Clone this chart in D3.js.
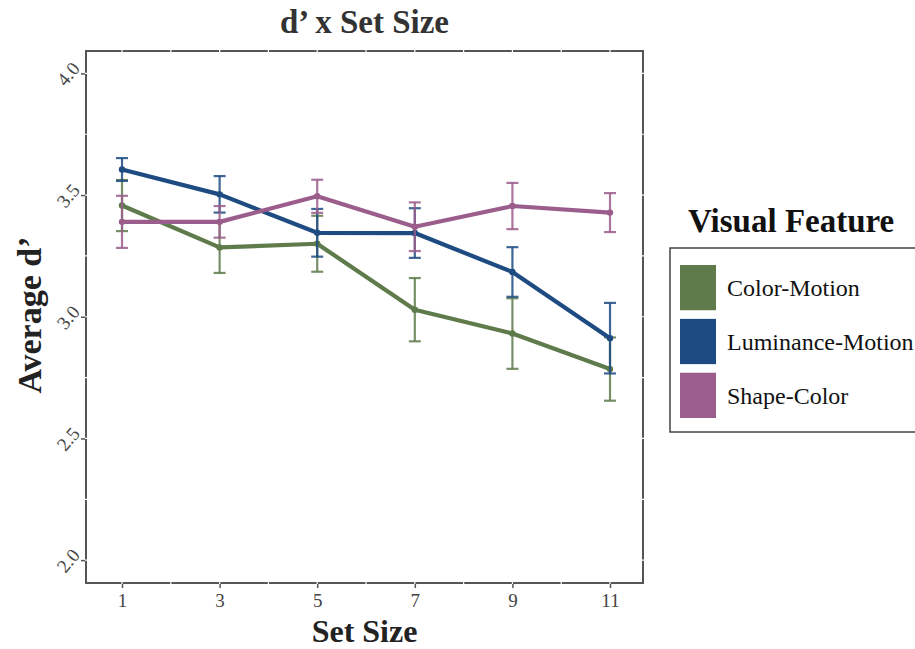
<!DOCTYPE html>
<html>
<head>
<meta charset="utf-8">
<script src="https://cdn.jsdelivr.net/npm/d3@7"></script>
<style>
  html, body { margin: 0; padding: 0; background: #fff; }
  svg { display: block; }
</style>
</head>
<body>
<svg id="chart" width="915" height="649"></svg>
<script>
// Set sizes on the x axis
const setSizes = [1, 3, 5, 7, 9, 11];

// Mean d' per set size, one array per visual feature condition
const colorMotion     = [3.457, 3.285, 3.300, 3.029, 2.931, 2.785];
const luminanceMotion = [3.605, 3.503, 3.345, 3.344, 3.184, 2.912];
const shapeColor      = [3.390, 3.390, 3.495, 3.370, 3.455, 3.428];

// Standard error around each mean
const colorMotionSE     = [0.105, 0.105, 0.115, 0.130, 0.145, 0.130];
const luminanceMotionSE = [0.047, 0.075, 0.098, 0.102, 0.102, 0.145];
const shapeColorSE      = [0.107, 0.065, 0.068, 0.100, 0.095, 0.080];

const seriesNames  = ["Color-Motion", "Luminance-Motion", "Shape-Color"];
const seriesColors = ["#5f7b4b", "#1d4b82", "#9b5d8b"];

const yTicks = [2.0, 2.5, 3.0, 3.5, 4.0];

const series = [
  { name: seriesNames[0], color: seriesColors[0], mean: colorMotion,     se: colorMotionSE },
  { name: seriesNames[1], color: seriesColors[1], mean: luminanceMotion, se: luminanceMotionSE },
  { name: seriesNames[2], color: seriesColors[2], mean: shapeColor,      se: shapeColorSE }
];

const svg = d3.select("#chart");
const serif = "'Liberation Serif', 'Times New Roman', serif";

// Panel box
const panel = { left: 86, right: 643, top: 51, bottom: 583 };

const x = d3.scaleLinear().domain([0.262, 11.676]).range([panel.left, panel.right]);
const y = d3.scaleLinear().domain([1.906, 4.092]).range([panel.bottom, panel.top]);

// Title
svg.append("text")
  .attr("x", (panel.left + panel.right) / 2)
  .attr("y", 33)
  .attr("text-anchor", "middle")
  .attr("font-family", serif)
  .attr("font-weight", "bold")
  .attr("font-size", 33)
  .attr("fill", "#333")
  .text("d\u2019 x Set Size");

// Panel border
svg.append("rect")
  .attr("x", panel.left).attr("y", panel.top)
  .attr("width", panel.right - panel.left)
  .attr("height", panel.bottom - panel.top)
  .attr("fill", "#fff")
  .attr("stroke", "#555")
  .attr("stroke-width", 2);

// White grid lines (only show where they cross the border)
const grid = svg.append("g").attr("stroke", "#fff").attr("stroke-width", 1.2);
d3.range(0, 12, 1).forEach(v => {
  if (x(v) > panel.left + 1 && x(v) < panel.right - 1) {
    grid.append("line").attr("x1", x(v)).attr("x2", x(v))
      .attr("y1", panel.top - 1.5).attr("y2", panel.bottom + 1.5);
  }
});
d3.range(2.0, 4.01, 0.25).forEach(v => {
  grid.append("line").attr("y1", y(v)).attr("y2", y(v))
    .attr("x1", panel.left - 1.5).attr("x2", panel.right + 1.5);
});

// Axes
const xAxis = d3.axisBottom(x).tickValues(setSizes).tickSize(4).tickPadding(6)
  .tickFormat(d3.format("d"));
const gx = svg.append("g")
  .attr("transform", `translate(0,${panel.bottom + 1})`)
  .call(xAxis);
gx.select(".domain").remove();
gx.selectAll(".tick line").attr("stroke", "#555").attr("stroke-width", 1.5);
gx.selectAll(".tick text")
  .attr("font-family", serif).attr("font-size", 19).attr("fill", "#444");

const yAxis = d3.axisLeft(y).tickValues(yTicks).tickSize(4).tickPadding(6)
  .tickFormat(d3.format(".1f"));
const gy = svg.append("g")
  .attr("transform", `translate(${panel.left - 1},0)`)
  .call(yAxis);
gy.select(".domain").remove();
gy.selectAll(".tick line").attr("stroke", "#555").attr("stroke-width", 1.5);
gy.selectAll(".tick text")
  .attr("font-family", serif).attr("font-size", 19).attr("fill", "#444")
  .attr("text-anchor", "middle")
  .attr("x", -17).attr("dy", "0.35em")
  .attr("transform", "rotate(-50,-17,0)");

// Axis titles
svg.append("text")
  .attr("x", (panel.left + panel.right) / 2)
  .attr("y", 642)
  .attr("text-anchor", "middle")
  .attr("font-family", serif).attr("font-weight", "bold")
  .attr("font-size", 32).attr("fill", "#222")
  .text("Set Size");

svg.append("text")
  .attr("transform", `translate(41,${(panel.top + panel.bottom) / 2 - 2}) rotate(-90)`)
  .attr("text-anchor", "middle")
  .attr("font-family", serif).attr("font-weight", "bold")
  .attr("font-size", 34).attr("fill", "#222")
  .text("Average d\u2019");

// Lines, points and error bars
const plot = svg.append("g");
const line = d3.line().x(d => x(d.s)).y(d => y(d.m));
const capHalf = 6;

series.forEach(sr => {
  const pts = setSizes.map((s, i) => ({ s, m: sr.mean[i], e: sr.se[i] }));
  const g = plot.append("g");
  g.append("path").datum(pts)
    .attr("d", line)
    .attr("fill", "none")
    .attr("stroke", sr.color)
    .attr("stroke-width", 4.2)
    .attr("stroke-linejoin", "round");
  g.selectAll("circle").data(pts).join("circle")
    .attr("cx", d => x(d.s)).attr("cy", d => y(d.m))
    .attr("r", 3.2).attr("fill", sr.color);
  const eb = g.append("g")
    .attr("stroke", sr.color)
    .attr("stroke-width", 2.2)
    .attr("stroke-opacity", 0.85);
  pts.forEach(d => {
    eb.append("line").attr("x1", x(d.s)).attr("x2", x(d.s))
      .attr("y1", y(d.m - d.e)).attr("y2", y(d.m + d.e));
    eb.append("line").attr("x1", x(d.s) - capHalf).attr("x2", x(d.s) + capHalf)
      .attr("y1", y(d.m + d.e)).attr("y2", y(d.m + d.e));
    eb.append("line").attr("x1", x(d.s) - capHalf).attr("x2", x(d.s) + capHalf)
      .attr("y1", y(d.m - d.e)).attr("y2", y(d.m - d.e));
  });
});

// Legend
const legend = svg.append("g");
legend.append("text")
  .attr("x", 688).attr("y", 232)
  .attr("font-family", serif).attr("font-weight", "bold")
  .attr("font-size", 33).attr("fill", "#111")
  .text("Visual Feature");
legend.append("rect")
  .attr("x", 670).attr("y", 248)
  .attr("width", 260).attr("height", 184)
  .attr("fill", "#fff")
  .attr("stroke", "#444")
  .attr("stroke-width", 1.5);

const keyY = d3.scaleBand().domain(seriesNames).range([265, 418]).paddingInner(0.16);
seriesNames.forEach((n, i) => {
  legend.append("rect")
    .attr("x", 680).attr("y", keyY(n))
    .attr("width", 36).attr("height", keyY.bandwidth())
    .attr("fill", seriesColors[i]);
  legend.append("text")
    .attr("x", 727).attr("y", keyY(n) + keyY.bandwidth() / 2)
    .attr("dy", "0.35em")
    .attr("font-family", serif).attr("font-size", 24).attr("fill", "#111")
    .text(n);
});
</script>
</body>
</html>
